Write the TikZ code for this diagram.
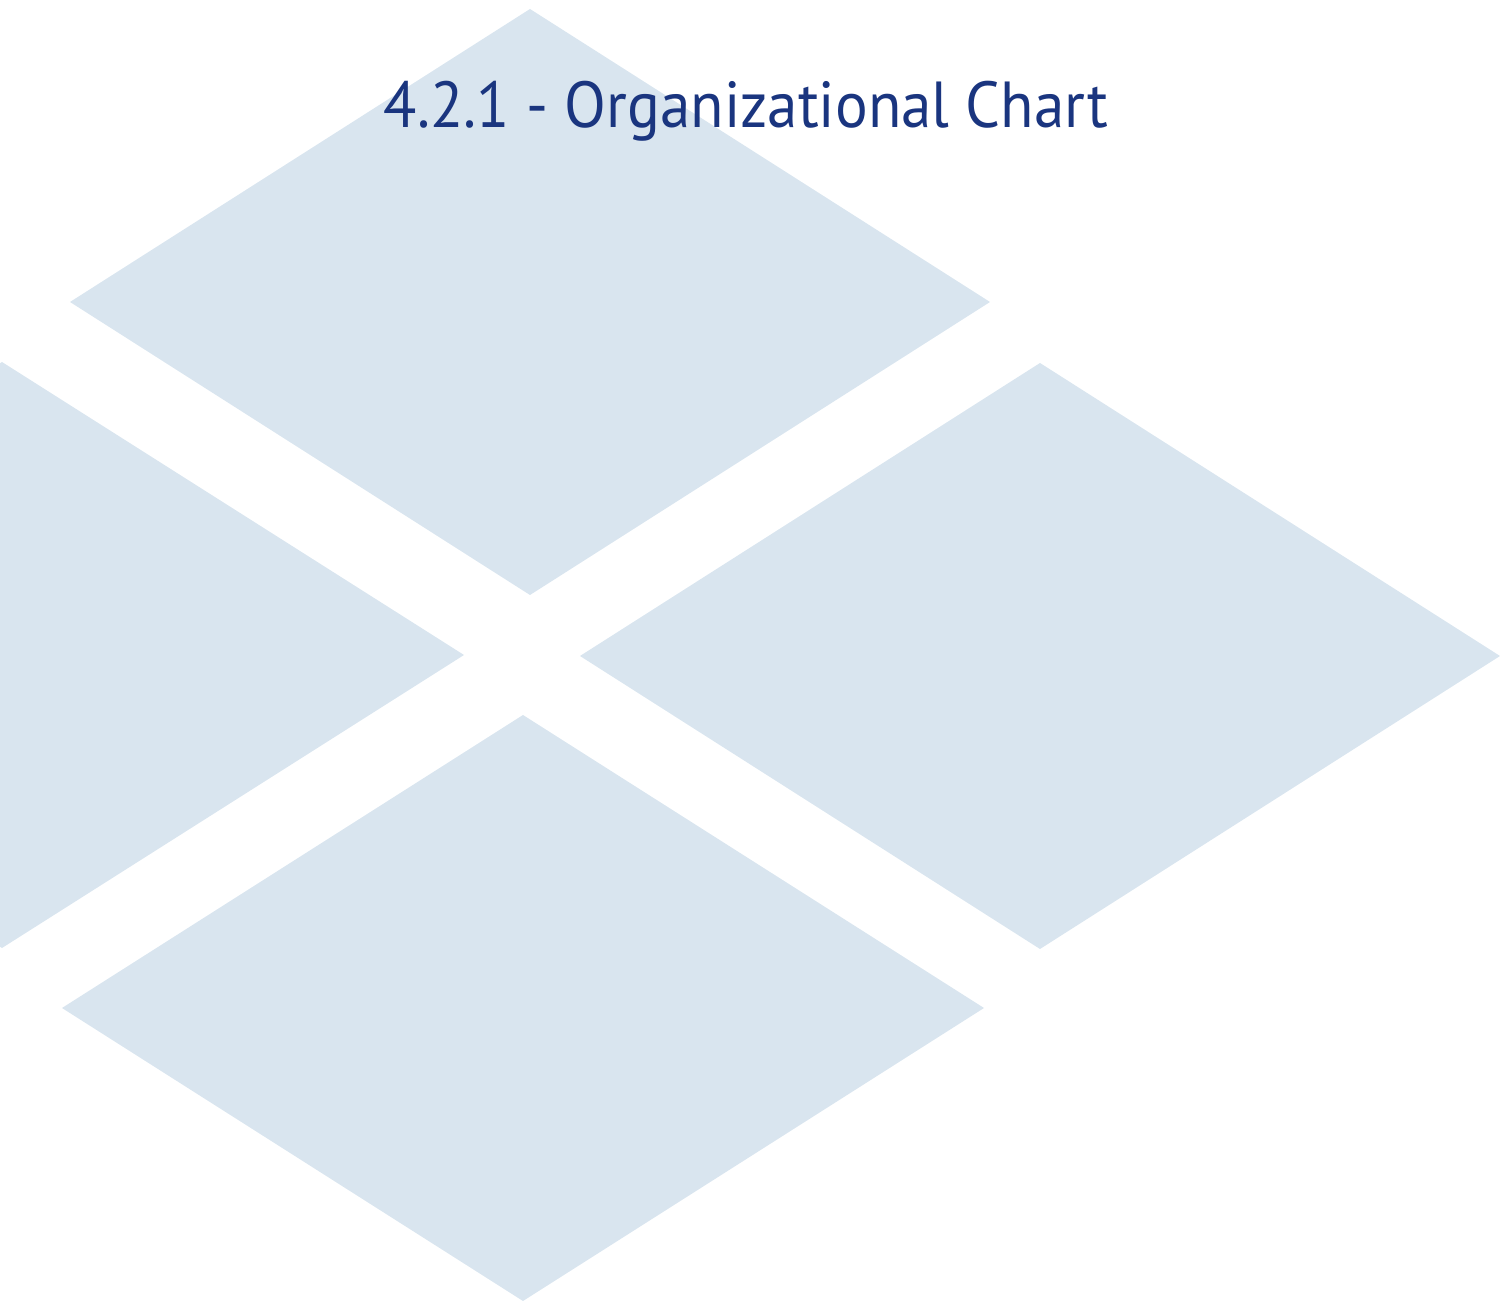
\documentclass[tikz,border=0pt]{standalone}
\usepackage{fontspec}
\setmainfont{PT Sans}
\usepackage{tikz}
\usetikzlibrary{positioning}
\definecolor{tileColor}{RGB}{217,229,239}
\definecolor{titleColor}{RGB}{26,53,127}
\tikzstyle{chart} = [x = .01cm, y = -.01cm]
\tikzstyle{tileStyle} = [fill=tileColor, draw=none]
\tikzstyle{titleText} = [text=titleColor, font=\fontsize{18.5}{22}\selectfont, inner sep=0pt, xscale=.94, transform shape]
\newcommand{\tile}[3]{\fill [tileStyle] (#1 - #3, #2) -- (#1, #2 - 293) -- (#1 + #3, #2) -- (#1, #2 + 293) -- cycle;}

\begin{document}
\begin{tikzpicture}[chart]
\useasboundingbox (0,0) rectangle (1500,1301);
\tile{530}{302}{460}
\tile{1040}{656}{460}
\tile{523}{1008}{461}
\begin{scope}
  \clip (0,0) rectangle (1500,1301);
  \tile{2}{655}{462}
\end{scope}
\node [titleText] (title) at (746,111) {4.2.1 - Organizational Chart};
\end{tikzpicture}
\end{document}
